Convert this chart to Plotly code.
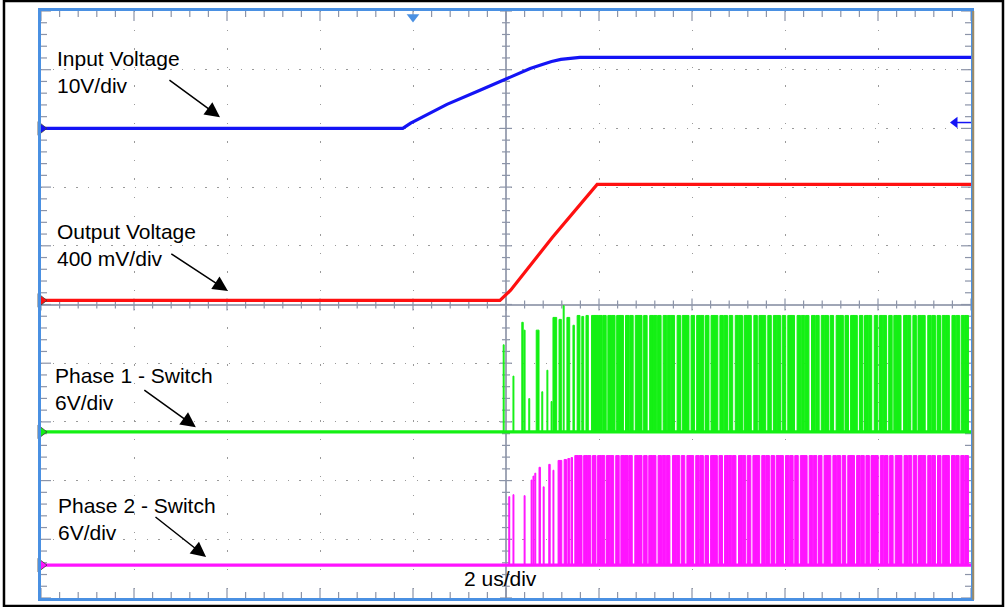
import plotly.graph_objects as go

# ---------------- time base / screen ----------------
T_MIN, T_MAX = -10.0, 10.0        # µs, 2 µs/div, 10 horizontal divisions
D_MIN, D_MAX = -5.0, 5.0          # vertical divisions

# volts per division and ground-marker position (in divisions) per channel
ch1_scale, ch1_offset = 10.0, 3.0      # input voltage
ch2_scale, ch2_offset = 0.4, 0.07      # output voltage
ch3_scale, ch3_offset = 6.0, -2.17     # phase 1 switch node
ch4_scale, ch4_offset = 6.0, -4.44     # phase 2 switch node

# trigger settings (channel 1)
trig_time_us = -2.0
trig_level_v = 1.0

# ---------------- waveforms ----------------
# input voltage (V)
vin_t = [-10.0, -2.22, -2.05, -1.85, -1.27, -0.56, 0.00, 0.52, 0.78, 0.98,
         1.18, 1.40, 1.59, 10.0]
vin_v = [0.0, 0.0, 0.9, 1.7, 4.1, 6.5, 8.35, 10.2, 10.9, 11.4,
         11.75, 12.0, 12.1, 12.1]

# output voltage (V)
vout_t = [-10.0, -0.13, 0.10, 1.00, 1.96, 10.0]
vout_v = [0.0, 0.0, 0.07, 0.43, 0.79, 0.79]

# phase 1 switch node: first pulses while the input ramps (start µs, width µs, peak V)
ph1_on = [-0.06, 0.15, 0.34, 0.39, 0.49, 0.65, 0.77, 0.88, 0.97, 1.01,
          1.14, 1.23, 1.31, 1.44, 1.53, 1.63, 1.72]
ph1_width = [0.02, 0.02, 0.03, 0.02, 0.02, 0.06, 0.02, 0.02, 0.02, 0.08,
             0.05, 0.02, 0.06, 0.03, 0.06, 0.04, 0.05]
ph1_peak = [8.9, 5.7, 11.2, 10.4, 3.4, 10.4, 4.1, 6.3, 3.1, 11.7,
            11.5, 12.9, 11.7, 10.9, 11.9, 11.8, 11.9]
# phase 1 steady switching (pulse starts, µs)
ph1_run_on = [1.84, 1.91, 1.99, 2.08, 2.19, 2.27, 2.38, 2.45, 2.57, 2.66,
              2.78, 2.85, 2.96, 3.09, 3.17, 3.26, 3.38, 3.47, 3.55, 3.68,
              3.79, 3.86, 3.98, 4.10, 4.18, 4.29, 4.41, 4.48, 4.60, 4.69,
              4.80, 4.93, 5.01, 5.12, 5.20, 5.33, 5.44, 5.51, 5.63, 5.75,
              5.83, 5.94, 6.06, 6.13, 6.26, 6.35, 6.44, 6.57, 6.66, 6.78,
              6.86, 6.97, 7.10, 7.18, 7.29, 7.41, 7.48, 7.60, 7.71, 7.79,
              7.92, 8.03, 8.11, 8.23, 8.34, 8.42, 8.55, 8.63, 8.75, 8.86,
              8.94, 9.07, 9.16, 9.27, 9.38, 9.46, 9.59, 9.68, 9.79, 9.87]
ph1_run_width = 0.075
ph1_run_peak = 11.9

# phase 2 switch node: first pulses
ph2_on = [0.06, 0.15, 0.39, 0.54, 0.58, 0.62, 0.71, 0.80, 0.92, 1.01,
          1.12, 1.25, 1.33, 1.40]
ph2_width = [0.02, 0.02, 0.02, 0.02, 0.02, 0.02, 0.03, 0.02, 0.03, 0.02,
             0.08, 0.05, 0.04, 0.03]
ph2_peak = [7.0, 7.2, 7.1, 8.7, 9.1, 9.4, 10.0, 8.0, 10.3, 9.7,
            10.7, 10.8, 10.9, 11.0]
# phase 2 steady switching
ph2_run_on = [1.48, 1.56, 1.67, 1.75, 1.86, 1.97, 2.05, 2.16, 2.24, 2.36,
              2.47, 2.55, 2.64, 2.77, 2.85, 2.96, 3.07, 3.15, 3.27, 3.36,
              3.45, 3.58, 3.66, 3.77, 3.89, 3.96, 4.08, 4.17, 4.28, 4.40,
              4.47, 4.58, 4.70, 4.78, 4.87, 5.00, 5.08, 5.19, 5.31, 5.38,
              5.50, 5.59, 5.70, 5.81, 5.89, 6.01, 6.10, 6.21, 6.33, 6.40,
              6.52, 6.61, 6.72, 6.84, 6.91, 7.03, 7.12, 7.23, 7.35, 7.42,
              7.54, 7.63, 7.74, 7.85, 7.93, 8.05, 8.14, 8.25, 8.37, 8.44,
              8.56, 8.65, 8.76, 8.87, 8.95, 9.07, 9.16, 9.28, 9.39, 9.46,
              9.58, 9.67, 9.78, 9.87]
ph2_run_width = 0.075
ph2_run_peak = 11.2

# ---------------- colours / fonts ----------------
C_IN, C_OUT, C_PH1, C_PH2 = "#1414F5", "#FF1010", "#14F014", "#FF14FF"
BORDER = "#4A90E2"
GRAT = "#8C94A8"
FONT = "Arial, Liberation Sans, sans-serif"

# screen size in pixels, used to size the graticule ticks
PX_W, PX_H = 930.0, 587.0
px_t = (T_MAX - T_MIN) / PX_W
px_d = (D_MAX - D_MIN) / PX_H


def to_div(volts, scale, offset):
    return [offset + v / scale for v in volts]


def pulse_train(starts, widths, peaks):
    xs, ys = [T_MIN], [0.0]
    for t, w, p in zip(starts, widths, peaks):
        xs += [t, t, t + w, t + w]
        ys += [0.0, p, p, 0.0]
    xs.append(T_MAX)
    ys.append(0.0)
    return xs, ys


fig = go.Figure()

# graticule ticks: on the four borders and on the centre cross
tx, ty = [], []
for i in range(51):
    t = T_MIN + i * 0.4
    major = i % 5 == 0
    L = (10 if major else 6) * px_d
    c = (6 if major else 4) * px_d
    tx += [t, t, None, t, t, None, t, t, None]
    ty += [D_MIN, D_MIN + L, None, D_MAX, D_MAX - L, None, -c, c, None]
for i in range(51):
    d = D_MIN + i * 0.2
    major = i % 5 == 0
    L = (10 if major else 6) * px_t
    c = (6 if major else 4) * px_t
    tx += [T_MIN, T_MIN + L, None, T_MAX, T_MAX - L, None, -c, c, None]
    ty += [d, d, None, d, d, None, d, d, None]
fig.add_trace(go.Scatter(x=tx, y=ty, mode="lines", line=dict(color=GRAT, width=1.2),
                         hoverinfo="skip", showlegend=False))

# input and output voltage
fig.add_trace(go.Scatter(x=vin_t, y=to_div(vin_v, ch1_scale, ch1_offset), mode="lines",
                         line=dict(color=C_IN, width=3.2), showlegend=False))
fig.add_trace(go.Scatter(x=vout_t, y=to_div(vout_v, ch2_scale, ch2_offset), mode="lines",
                         line=dict(color=C_OUT, width=3.2), showlegend=False))

# switch nodes
for col, scale, off, parts in [
    (C_PH1, ch3_scale, ch3_offset,
     [(ph1_on, ph1_width, ph1_peak),
      (ph1_run_on, [ph1_run_width] * len(ph1_run_on), [ph1_run_peak] * len(ph1_run_on))]),
    (C_PH2, ch4_scale, ch4_offset,
     [(ph2_on, ph2_width, ph2_peak),
      (ph2_run_on, [ph2_run_width] * len(ph2_run_on), [ph2_run_peak] * len(ph2_run_on))]),
]:
    for starts, widths, peaks in parts:
        xs, ys = pulse_train(starts, widths, peaks)
        fig.add_trace(go.Scatter(x=xs, y=to_div(ys, scale, off), mode="lines",
                                 line=dict(color=col, width=1), fill="toself",
                                 fillcolor=col, showlegend=False, hoverinfo="skip"))
    fig.add_trace(go.Scatter(x=[T_MIN, T_MAX], y=[off, off], mode="lines",
                             line=dict(color=col, width=3.2), showlegend=False))

# channel ground markers on the left edge
fig.add_trace(go.Scatter(
    x=[T_MIN] * 4, y=[ch1_offset, ch2_offset, ch3_offset, ch4_offset], mode="markers",
    marker=dict(symbol="triangle-right", size=12, color=[C_IN, C_OUT, C_PH1, C_PH2],
                line=dict(color="#404040", width=0.8)),
    cliponaxis=False, showlegend=False, hoverinfo="skip"))

# trigger position (top) and trigger level (right)
fig.add_trace(go.Scatter(x=[trig_time_us], y=[D_MAX - 6 * px_d], mode="markers",
                         marker=dict(symbol="triangle-down", size=11, color=BORDER),
                         cliponaxis=False, showlegend=False, hoverinfo="skip"))
trig_y = ch1_offset + trig_level_v / ch1_scale
fig.add_trace(go.Scatter(x=[T_MAX - 14 * px_t, T_MAX], y=[trig_y, trig_y], mode="lines",
                         line=dict(color=C_IN, width=1.5), showlegend=False, hoverinfo="skip"))
fig.add_trace(go.Scatter(x=[T_MAX - 16 * px_t], y=[trig_y], mode="markers",
                         marker=dict(symbol="triangle-left", size=10, color=C_IN),
                         showlegend=False, hoverinfo="skip"))

# labels
labels = [
    ("Input Voltage<br>10V/div", -9.70, 4.42),
    ("Output Voltage<br>400 mV/div", -9.70, 1.47),
    ("Phase 1 - Switch<br>6V/div", -9.74, -0.98),
    ("Phase 2 - Switch<br>6V/div", -9.67, -3.19),
]
annotations = []
for text, x, y in labels:
    annotations.append(dict(text=text, x=x, y=y, xref="x", yref="y", xanchor="left",
                            yanchor="top", align="left", showarrow=False,
                            font=dict(family=FONT, size=21, color="black")))
arrows = [(-7.27, 3.84, -6.15, 3.19), (-7.23, 0.88, -5.98, 0.23),
          (-7.81, -1.44, -6.67, -2.09), (-7.57, -3.60, -6.45, -4.30)]
for ax, ay, x, y in arrows:
    annotations.append(dict(text="", x=x, y=y, ax=ax, ay=ay, xref="x", yref="y",
                            axref="x", ayref="y", showarrow=True, arrowhead=2,
                            arrowsize=2, arrowwidth=1.5, arrowcolor="black", standoff=0))
annotations.append(dict(text="2 us/div", x=-0.11, y=-4.44, xref="x", yref="y",
                        xanchor="center", yanchor="top", showarrow=False,
                        font=dict(family=FONT, size=21, color="black")))

shapes = [
    # outer frame
    dict(type="rect", xref="paper", yref="paper", x0=-0.0398, x1=1.0344, y0=-0.0136, y1=1.017,
         line=dict(color="black", width=2.5), layer="above"),
    # bevel on the right of the screen
    dict(type="line", xref="paper", yref="paper", x0=1.0024, x1=1.0024, y0=-0.003, y1=1.0,
         line=dict(color="#A08C64", width=2), layer="above"),
]

axis_common = dict(showline=True, mirror=True, linecolor=BORDER, linewidth=2.5,
                   showticklabels=False, ticks="", zeroline=True, zerolinecolor="#A0A6B6",
                   zerolinewidth=1.6, showgrid=True, gridcolor="#9A9A9A", gridwidth=1.4)

fig.update_layout(
    width=1008, height=607,
    margin=dict(l=41, r=37, t=11, b=9),
    paper_bgcolor="white", plot_bgcolor="white",
    xaxis=dict(range=[T_MIN, T_MAX], dtick=2, tick0=0, griddash="1.4px,17.2px", **axis_common),
    yaxis=dict(range=[D_MIN, D_MAX], dtick=1, tick0=0, griddash="1.4px,10.34px", **axis_common),
    annotations=annotations, shapes=shapes, showlegend=False,
)

fig.write_html("out.html")
